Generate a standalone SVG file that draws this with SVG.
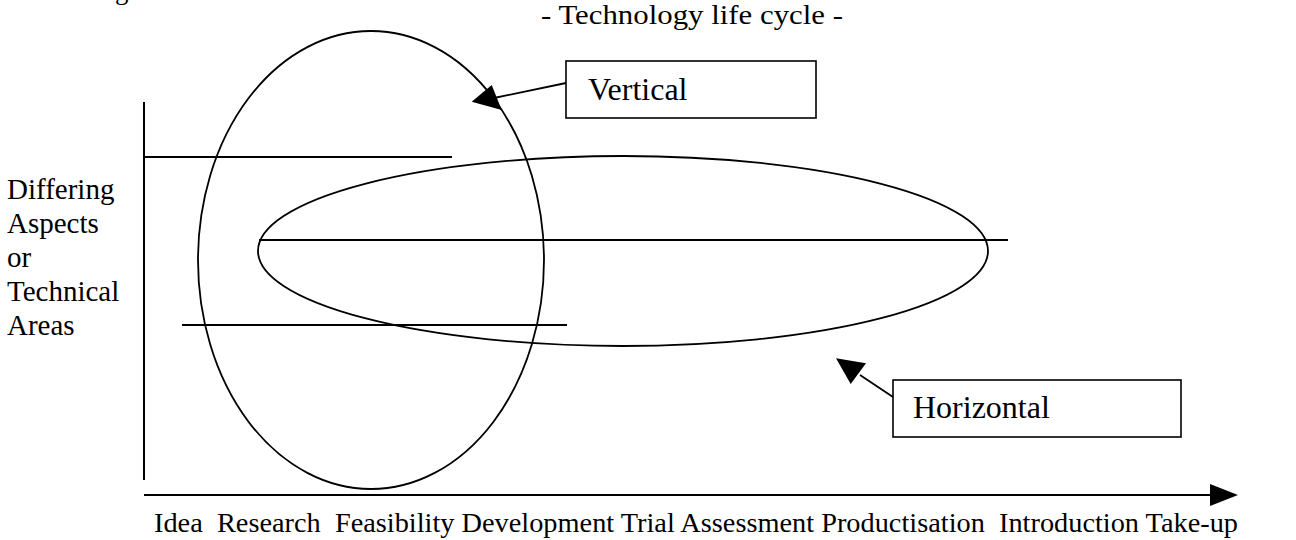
<svg xmlns="http://www.w3.org/2000/svg" width="1296" height="540" viewBox="0 0 1296 540">
  <style>
    text { font-family: "Liberation Serif", "Times New Roman", serif; fill: #000; }
    .ln { stroke: #000; stroke-width: 2; fill: none; }
    .ring { stroke: #000; stroke-width: 1.8; fill: none; }
    .box { stroke: #000; stroke-width: 1.6; fill: #fff; }
    .lbl { font-size: 32px; }
    .side { font-size: 29px; }
  </style>
  <defs>
    <marker id="head" markerWidth="10" markerHeight="10" refX="9" refY="5" orient="auto" markerUnits="userSpaceOnUse" viewBox="0 0 10 10">
      <path d="M0,0 L10,5 L0,10 Z" fill="#000"/>
    </marker>
  </defs>

  <!-- clipped caption fragment at the top edge -->
  <text x="115" y="-1" font-size="27">g</text>

  <text id="title" x="541" y="24" font-size="27" textLength="302" lengthAdjust="spacingAndGlyphs">- Technology life cycle -</text>

  <!-- axes -->
  <g id="axes">
    <line class="ln" x1="144" y1="102" x2="144" y2="480"/>
    <line class="ln" x1="144" y1="495" x2="1214" y2="495" stroke-width="2.5"/>
    <path d="M1210,484 L1238,495 L1210,506 Z" fill="#000"/>
  </g>

  <!-- area lines -->
  <g id="areas">
    <line class="ln" x1="144" y1="157" x2="452" y2="157"/>
    <line class="ln" x1="259" y1="240" x2="1008" y2="240"/>
    <line class="ln" x1="182" y1="325" x2="567" y2="325" stroke-width="3"/>
  </g>

  <!-- vertical and horizontal groupings -->
  <g id="vertical-ellipse">
    <ellipse class="ring" cx="371" cy="260" rx="173" ry="229"/>
  </g>
  <g id="horizontal-ellipse">
    <ellipse class="ring" cx="623" cy="251" rx="365" ry="95"/>
  </g>

  <g id="vertical-box">
    <rect class="box" x="566" y="61" width="250" height="57"/>
    <text class="lbl" x="588" y="100">Vertical</text>
  </g>
  <g id="horizontal-box">
    <rect class="box" x="893" y="380" width="288" height="57"/>
    <text class="lbl" x="913" y="418">Horizontal</text>
  </g>

  <!-- connectors -->
  <g id="connectors">
    <line x1="566" y1="83" x2="494" y2="98" stroke="#000" stroke-width="1.8"/>
    <path d="M471.7,101.7 L491.7,85 L501.7,110 Z" fill="#000"/>
    <line x1="893" y1="397" x2="860" y2="375" stroke="#000" stroke-width="1.8"/>
    <path d="M836,358.3 L866,363.3 L850.7,384 Z" fill="#000"/>
  </g>

  <g id="side-label" class="side">
    <text x="7" y="199">Differing</text>
    <text x="7" y="233">Aspects</text>
    <text x="7" y="267">or</text>
    <text x="7" y="301">Technical</text>
    <text x="7" y="335">Areas</text>
  </g>

  <text id="stages" x="154" y="532" font-size="27" textLength="1084" lengthAdjust="spacingAndGlyphs" style="white-space:pre">Idea  Research  Feasibility Development Trial Assessment Productisation  Introduction Take-up</text>
</svg>
